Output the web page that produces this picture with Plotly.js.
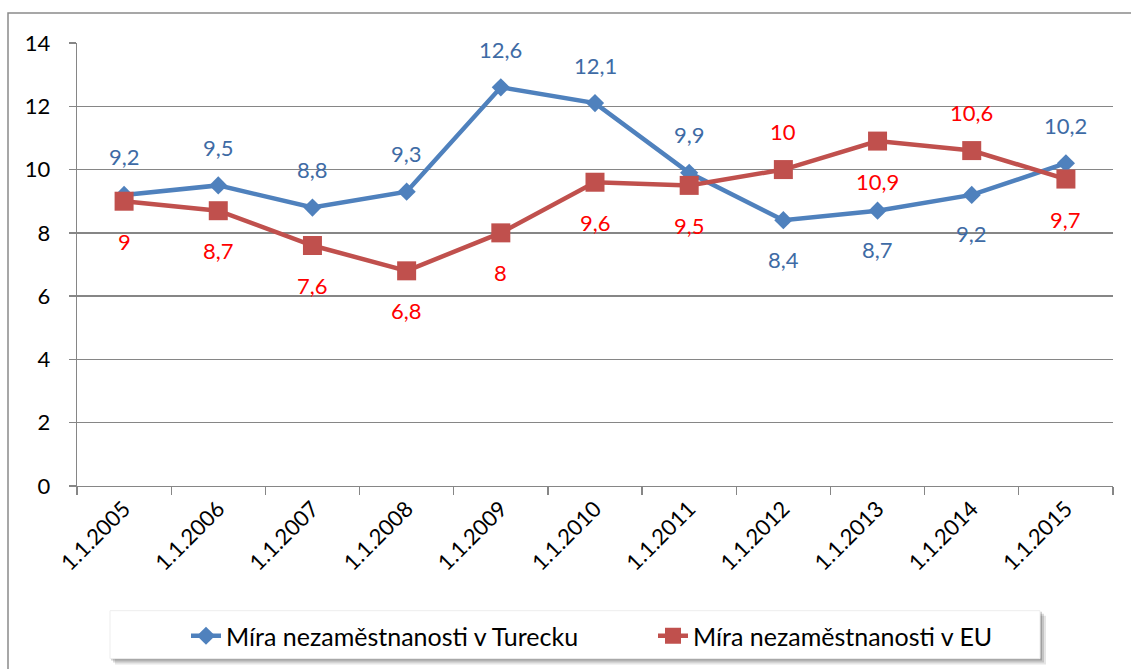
<!DOCTYPE html>
<html>
<head>
<meta charset="utf-8">
<script src="https://cdn.plot.ly/plotly-3.0.1.min.js"></script>
<style>html,body{margin:0;padding:0;background:#fff;}#chart{width:1131px;height:669px;}</style>
</head>
<body>
<div id="chart"></div>
<script>
var categories = ["1.1.2005","1.1.2006","1.1.2007","1.1.2008","1.1.2009","1.1.2010","1.1.2011","1.1.2012","1.1.2013","1.1.2014","1.1.2015"];
var turkey = [9.2, 9.5, 8.8, 9.3, 12.6, 12.1, 9.9, 8.4, 8.7, 9.2, 10.2];
var eu = [9, 8.7, 7.6, 6.8, 8, 9.6, 9.5, 10, 10.9, 10.6, 9.7];
var turkeyLabelPos = ["above","above","above","above","above","above","above","below","below","below","above"];
var euLabelPos = ["below","below","below","below","below","below","below","above","below","above","below"];
var seriesNames = ["Míra nezaměstnanosti v Turecku", "Míra nezaměstnanosti v EU"];

var W = 1131, H = 669, L = 77, R = 1113, T = 43, B = 487;
function px(x){ return (x - L) / (R - L); }
function py(y){ return (B - y) / (B - T); }
var FONT = "Lato, 'Noto Sans', sans-serif";
var FS = 22;
var LFS = 25;

function fmt(v){ return String(v).replace('.', ','); }

var annotations = [];
categories.forEach(function(c, i){
  annotations.push({x: c, y: turkey[i], xref: 'x', yref: 'y', text: fmt(turkey[i]), showarrow: false,
    yshift: turkeyLabelPos[i] === 'above' ? 38 : -39, font: {family: FONT, size: FS, color: '#3E6BA5'}});
  annotations.push({x: c, y: eu[i], xref: 'x', yref: 'y', text: fmt(eu[i]), showarrow: false,
    yshift: euLabelPos[i] === 'above' ? 38 : -40, font: {family: FONT, size: FS, color: '#FF0000'}});
});

var shapes = [
  {type: 'rect', xref: 'paper', yref: 'paper', x0: px(8), x1: px(1140), y0: py(13), y1: py(680),
   line: {color: '#8A8A8A', width: 1.5}, fillcolor: 'rgba(0,0,0,0)', layer: 'below'},
  {type: 'rect', xref: 'paper', yref: 'paper', x0: px(115), x1: px(1046), y0: py(617), y1: py(666),
   line: {width: 0}, fillcolor: 'rgba(0,0,0,0.10)', layer: 'below'},
  {type: 'rect', xref: 'paper', yref: 'paper', x0: px(113), x1: px(1044), y0: py(615), y1: py(664),
   line: {width: 0}, fillcolor: 'rgba(0,0,0,0.14)', layer: 'below'},
  {type: 'rect', xref: 'paper', yref: 'paper', x0: px(111), x1: px(1042), y0: py(613), y1: py(662),
   line: {width: 0}, fillcolor: 'rgba(0,0,0,0.18)', layer: 'below'},
  {type: 'rect', xref: 'paper', yref: 'paper', x0: px(110), x1: px(1040), y0: py(612), y1: py(660),
   line: {color: '#EDEDED', width: 1}, fillcolor: '#FFFFFF', layer: 'below'}
];

var data = [
  {x: categories, y: turkey, name: seriesNames[0], type: 'scatter', mode: 'lines+markers', legend: 'legend',
   line: {color: '#4F81BD', width: 4.5}, marker: {symbol: 'diamond', size: 14, color: '#4F81BD'}},
  {x: categories, y: eu, name: seriesNames[1], type: 'scatter', mode: 'lines+markers', legend: 'legend2',
   line: {color: '#C0504D', width: 4.5}, marker: {symbol: 'square', size: 19, color: '#C0504D'}}
];

var legendBase = {orientation: 'h', xanchor: 'left', y: py(636), yanchor: 'middle',
  bgcolor: 'rgba(0,0,0,0)', borderwidth: 0, font: {family: FONT, size: LFS, color: '#000000'}};

var layout = {
  width: W, height: H,
  margin: {l: L, r: W - R, t: T, b: H - B, pad: 0},
  paper_bgcolor: '#FFFFFF', plot_bgcolor: 'rgba(0,0,0,0)',
  font: {family: FONT, size: FS, color: '#000000'},
  showlegend: true,
  legend: Object.assign({}, legendBase, {x: px(186)}),
  legend2: Object.assign({}, legendBase, {x: px(653)}),
  xaxis: {type: 'category', range: [-0.5, categories.length - 0.5], tickson: 'boundaries', ticks: 'outside', ticklen: 8, tickwidth: 1.3,
    tickcolor: '#868686', showline: true, linecolor: '#868686', linewidth: 1.3, showgrid: false,
    zeroline: false, tickangle: -45, tickfont: {family: FONT, size: FS, color: '#000'}, fixedrange: true},
  yaxis: {range: [0, 14], dtick: 2, ticks: 'outside', ticklen: 7, tickwidth: 1.3, tickcolor: '#868686',
    showline: true, linecolor: '#868686', linewidth: 1.3, showgrid: true, gridcolor: '#868686', gridwidth: 1.3,
    zeroline: false, ticklabelstandoff: 14, tickfont: {family: FONT, size: FS, color: '#000'}, fixedrange: true},
  shapes: shapes,
  annotations: annotations
};

Plotly.newPlot('chart', data, layout, {displayModeBar: false, staticPlot: true});
</script>
</body>
</html>
